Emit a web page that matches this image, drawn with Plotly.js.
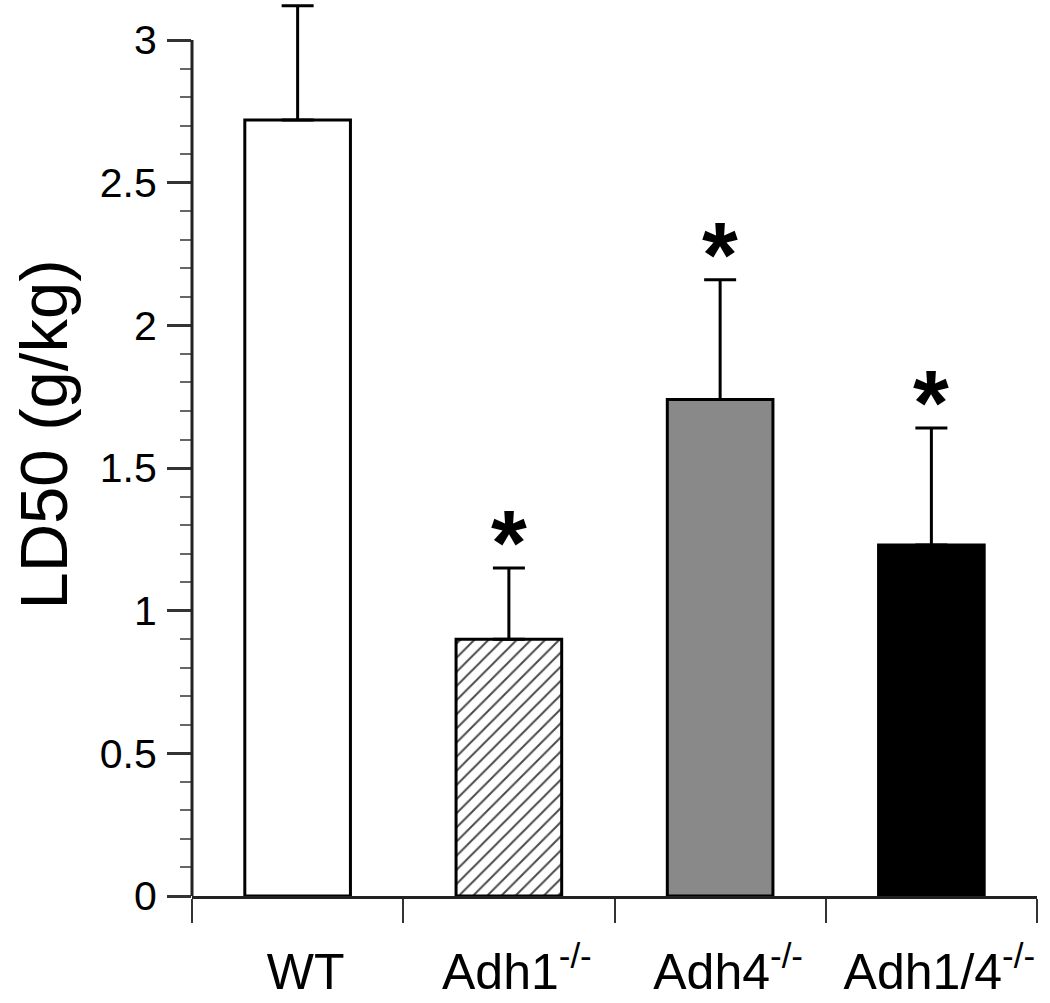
<!DOCTYPE html>
<html>
<head>
<meta charset="utf-8">
<script src="https://cdn.plot.ly/plotly-3.0.1.min.js"></script>
<style>html,body{margin:0;padding:0;background:#fff;}#chart{width:1050px;height:1003px;}</style>
</head>
<body>
<div id="chart"></div>
<script>
// Data
const categories = ['WT', 'Adh1<sup>-/-</sup>', 'Adh4<sup>-/-</sup>', 'Adh1/4<sup>-/-</sup>'];
const ld50 = [2.72, 0.90, 1.74, 1.23];
const sem = [0.40, 0.25, 0.42, 0.41];
const significant = [false, true, true, true];
const yTicks = [0, 0.5, 1, 1.5, 2, 2.5, 3];
const yTickText = ['0', '0.5', '1', '1.5', '2', '2.5', '3'];
const yAxisMax = 3;

const xPos = categories.map((c, i) => i);
const boundaries = [-0.5, 0.5, 1.5, 2.5, 3.5];

const fillColors = ['#ffffff', '#ffffff', '#898989', '#000000'];
const hatched = [false, true, false, false];

// minor tick positions every 0.1 up to the axis top
const minorTicks = [];
for (let k = 1; k < yAxisMax * 10; k++) { if (k % 5 !== 0) minorTicks.push(k / 10); }

const traces = xPos.map((x, i) => {
  const marker = {color: fillColors[i], line: {color: '#000', width: 3}};
  if (hatched[i]) {
    marker.pattern = {shape: '/', fgcolor: '#4a4a4a', bgcolor: fillColors[i], size: 10, solidity: 0.2, fillmode: 'replace'};
  }
  return {
    type: 'bar',
    x: [x],
    y: [ld50[i]],
    width: 0.5,
    marker: marker,
    error_y: {
      type: 'data', symmetric: false, array: [sem[i]], arrayminus: [0],
      color: '#000', thickness: 3, width: 16, visible: true
    },
    hoverinfo: 'skip'
  };
});

const annotations = [];
xPos.forEach((x, i) => {
  if (significant[i]) {
    annotations.push({
      x: x, y: ld50[i] + sem[i], xref: 'x', yref: 'y',
      text: '*', showarrow: false, yanchor: 'bottom', yshift: -28,
      font: {family: 'Liberation Sans, Arial, sans-serif', size: 92, color: '#000', weight: 'bold'}
    });
  }
});
annotations.push({
  text: 'LD50 (g/kg)', xref: 'paper', yref: 'paper', x: -0.176, y: 0.517,
  xanchor: 'center', yanchor: 'middle', textangle: -90, showarrow: false,
  font: {size: 67, color: '#000'}
});

const layout = {
  width: 1050, height: 1003,
  margin: {l: 192, r: 13, t: 3, b: 107},
  paper_bgcolor: '#fff', plot_bgcolor: '#fff',
  showlegend: false,
  barmode: 'overlay',
  font: {family: 'Liberation Sans, Arial, Helvetica, sans-serif', color: '#000'},
  xaxis: {
    range: [-0.5, 3.5],
    tickvals: xPos, ticktext: categories,
    ticks: '', showgrid: false, zeroline: false,
    showline: true, linewidth: 3, linecolor: '#222',
    tickfont: {size: 50, color: '#000'},
    ticklabelstandoff: 30, ticklabelshift: 8,
    minor: {tickvals: boundaries, ticks: 'outside', ticklen: 24, tickwidth: 2, tickcolor: '#333', showgrid: false}
  },
  yaxis: {
    range: [0, 3.13],
    tickvals: yTicks, ticktext: yTickText,
    ticks: 'outside', ticklen: 24, tickwidth: 3, tickcolor: '#333',
    showgrid: false, zeroline: false,
    showline: false,
    tickfont: {size: 41, color: '#000'},
    ticklabelstandoff: 2,
    minor: {tickvals: minorTicks, ticks: 'outside', ticklen: 11, tickwidth: 2, tickcolor: '#666', showgrid: false}
  },
  shapes: [{
    type: 'line', xref: 'paper', yref: 'y', x0: 0, x1: 0, y0: 0, y1: yAxisMax,
    line: {color: '#222', width: 3}, layer: 'above'
  }],
  annotations: annotations
};

Plotly.newPlot('chart', traces, layout, {displayModeBar: false, staticPlot: true});
</script>
</body>
</html>
